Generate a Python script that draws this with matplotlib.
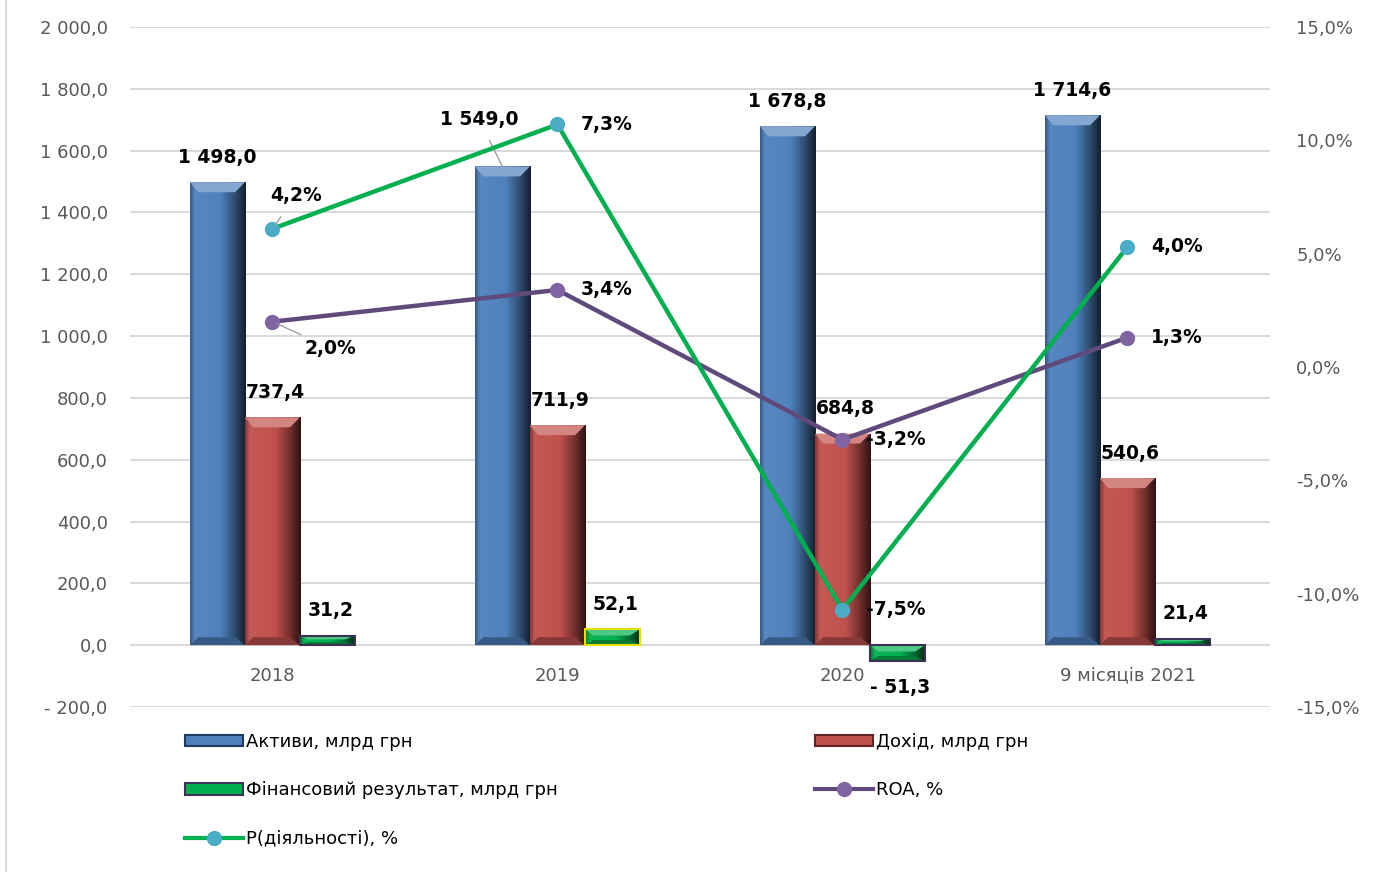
import numpy as np
import matplotlib
matplotlib.use("Agg")
import matplotlib.pyplot as plt
from matplotlib.colors import LinearSegmentedColormap, to_rgb
from matplotlib.patches import Patch, Polygon
from matplotlib.lines import Line2D

# data
categories = ["2018", "2019", "2020", "9 місяців 2021"]
assets = [1498.0, 1549.0, 1678.8, 1714.6]
income = [737.4, 711.9, 684.8, 540.6]
fin_result = [31.2, 52.1, -51.3, 21.4]
roa = [2.0, 3.4, -3.2, 1.3]
roa_labels = ["2,0%", "3,4%", "-3,2%", "1,3%"]
# points as drawn in the picture (labels were typed separately)
p_activity = [6.1, 10.7, -10.7, 5.3]
p_activity_labels = ["4,2%", "7,3%", "-7,5%", "4,0%"]

series_names = ["Активи, млрд грн", "Дохід, млрд грн",
                "Фінансовий результат, млрд грн", "ROA, %", "Р(діяльності), %"]

BLUE = "#4F81BD"
RED = "#C0504D"
GREEN = "#00B050"
PURPLE = "#604A7B"
PURPLE_M = "#8064A2"
CYAN = "#4BACC6"
GRID = "#D9D9D9"
TICK = "#595959"


def fmt_num(v):
    s = f"{abs(v):,.1f}".replace(",", " ").replace(".", ",")
    return "- " + s if v < 0 else s


def shade(c, k):
    r, g, b = to_rgb(c)
    if k < 1:
        return (r * k, g * k, b * k)
    k = k - 1
    return (r + (1 - r) * k, g + (1 - g) * k, b + (1 - b) * k)


def fancy_bars(ax, bars, base, px_units):
    cmap = LinearSegmentedColormap.from_list(
        "b", [(0, shade(base, 0.7)), (0.08, shade(base, 1.05)), (0.55, base),
              (0.8, shade(base, 0.6)), (1, shade(base, 0.25))])
    grad = np.linspace(0, 1, 80).reshape(1, -1)
    for r in bars:
        x0, w = r.get_x(), r.get_width()
        y0, h = r.get_y(), r.get_height()
        lo, hi = min(y0, y0 + h), max(y0, y0 + h)
        im = ax.imshow(grad, extent=[x0, x0 + w, lo, hi], aspect="auto",
                       cmap=cmap, origin="lower", zorder=2)
        im.set_clip_path(r)
        d = min(10 * px_units, 0.4 * (hi - lo))
        top = Polygon([(x0, hi), (x0 + w, hi), (x0 + w * 0.82, hi - d), (x0 + w * 0.15, hi - d)],
                      closed=True, facecolor=shade(base, 1.3), edgecolor="none", zorder=2.5)
        ax.add_patch(top)
        bot = Polygon([(x0, lo), (x0 + w, lo), (x0 + w * 0.82, lo + d * 0.8), (x0 + w * 0.15, lo + d * 0.8)],
                      closed=True, facecolor=shade(base, 0.7), edgecolor="none", zorder=2.5)
        ax.add_patch(bot)


fig = plt.figure(figsize=(13.81, 8.72), dpi=100)
ax = fig.add_axes([0.0941, 0.1892, 0.8255, 0.7798])
ax.set_xlim(-0.5, 3.5)
ax.set_ylim(-200, 2000)
px_units = 2200 / (0.7798 * 872)

x = np.arange(len(categories))
w = 0.193
b1 = ax.bar(x - w, assets, w, color=BLUE, zorder=1)
b2 = ax.bar(x, income, w, color=RED, zorder=1)
b3 = ax.bar(x + w, fin_result, w, color=GREEN, zorder=1)
fancy_bars(ax, b1, BLUE, px_units)
fancy_bars(ax, b2, RED, px_units)
fancy_bars(ax, b3, GREEN, px_units)
for r in b3:
    r.set_edgecolor("#3F3151")
    r.set_linewidth(1.5)
    r.set_zorder(3)
    r.set_facecolor("none")
b3[1].set_edgecolor("#E8E000")

ax.set_yticks(np.arange(-200, 2001, 200))
ax.set_yticklabels([fmt_num(v) for v in np.arange(-200, 2001, 200)])
ax.set_xticks([])
ax.grid(axis="y", color=GRID, linewidth=1.4, zorder=0)
ax.set_axisbelow(True)
ax.tick_params(axis="y", length=0, pad=16, labelsize=13, labelcolor=TICK)
for s in ax.spines.values():
    s.set_visible(False)

for i, c in enumerate(categories):
    ax.annotate(c, (i, 0), xytext=(0, -22), textcoords="offset points",
                ha="center", va="center", fontsize=13, color=TICK)

lab = dict(fontsize=13.5, fontweight="bold", color="black", textcoords="offset points",
           ha="center", va="center", zorder=6)
for i, r in enumerate(b1):
    xc = r.get_x() + r.get_width() / 2
    if i == 1:
        ax.annotate(fmt_num(assets[i]), (xc, assets[i]), xytext=(-17, 34),
                    arrowprops=dict(arrowstyle="-", color="#A0A0A0", lw=1, shrinkA=7, shrinkB=0), **lab)
    else:
        ax.annotate(fmt_num(assets[i]), (xc, assets[i]), xytext=(0, 18), **lab)
for i, r in enumerate(b2):
    xc = r.get_x() + r.get_width() / 2
    ax.annotate(fmt_num(income[i]), (xc, income[i]), xytext=(2, 18), **lab)
for i, r in enumerate(b3):
    xc = r.get_x() + r.get_width() / 2
    dy = 18 if fin_result[i] >= 0 else -19
    ax.annotate(fmt_num(fin_result[i]), (xc, fin_result[i]), xytext=(2, dy), **lab)

ax2 = ax.twinx()
ax2.set_ylim(-15, 15)
ax2.set_yticks(np.arange(-15, 16, 5))
ax2.set_yticklabels([f"{v:.1f}%".replace(".", ",") for v in np.arange(-15, 16, 5)])
ax2.tick_params(axis="y", length=0, pad=19, labelsize=13, labelcolor=TICK)
for s in ax2.spines.values():
    s.set_visible(False)

ax2.plot(x, roa, color=PURPLE, lw=3.2, marker="o", ms=10, mfc=PURPLE_M, mec=PURPLE_M, zorder=4)
ax2.plot(x, p_activity, color=GREEN, lw=3.2, marker="o", ms=10, mfc=CYAN, mec=CYAN, zorder=5)

llab = dict(fontsize=13.5, fontweight="bold", color="black", textcoords="offset points",
            va="center", zorder=6)
for i in range(len(x)):
    if i == 0:
        ax2.annotate(p_activity_labels[i], (x[i], p_activity[i]), xytext=(17, 24), ha="center",
                     arrowprops=dict(arrowstyle="-", color="#A0A0A0", lw=1, shrinkA=8, shrinkB=3), **llab)
        ax2.annotate(roa_labels[i], (x[i], roa[i]), xytext=(23, -19), ha="left",
                     arrowprops=dict(arrowstyle="-", color="#A0A0A0", lw=1, shrinkA=2, shrinkB=4), **llab)
    else:
        ax2.annotate(p_activity_labels[i], (x[i], p_activity[i]), xytext=(17, 0), ha="left", **llab)
        ax2.annotate(roa_labels[i], (x[i], roa[i]), xytext=(17, 0), ha="left", **llab)

# legend
h_act = Patch(facecolor=BLUE, edgecolor="#1F3A5F", lw=1.5)
h_inc = Patch(facecolor=RED, edgecolor="#632523", lw=1.5)
h_fin = Patch(facecolor=GREEN, edgecolor="#3F3151", lw=1.5)
h_roa = Line2D([], [], color=PURPLE, lw=3, marker="o", ms=10, mfc=PURPLE_M, mec=PURPLE_M)
h_p = Line2D([], [], color=GREEN, lw=3, marker="o", ms=10, mfc=CYAN, mec=CYAN)
leg_kw = dict(loc="upper left", frameon=False, fontsize=13, borderpad=0, borderaxespad=0,
              handlelength=3.2, handleheight=0.6, handletextpad=0.2, labelspacing=1.68)
l1 = fig.legend([h_act, h_fin, h_p], [series_names[0], series_names[2], series_names[4]],
                bbox_to_anchor=(0.134, 0.1595), **leg_kw)
l2 = fig.legend([h_inc, h_roa], [series_names[1], series_names[3]],
                bbox_to_anchor=(0.590, 0.1595), **leg_kw)

fig.add_artist(Line2D([0.004, 0.004], [0, 1], color=GRID, lw=1.5, transform=fig.transFigure))

fig.savefig("out.png", dpi=100)
